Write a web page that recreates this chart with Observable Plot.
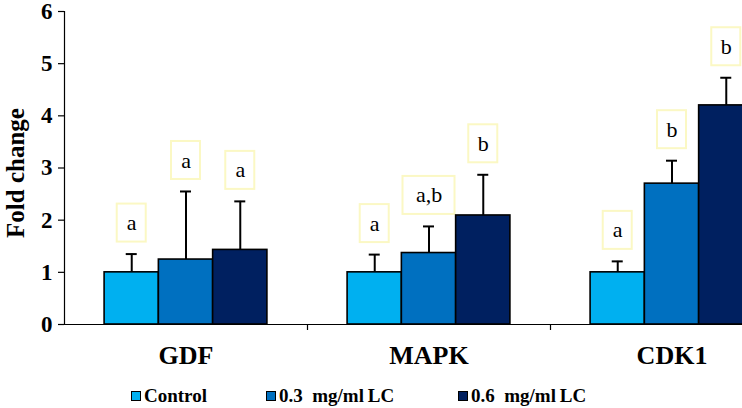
<!DOCTYPE html>
<html>
<head>
<meta charset="utf-8">
<script src="https://cdn.jsdelivr.net/npm/d3@7"></script>
<script src="https://cdn.jsdelivr.net/npm/@observablehq/plot@0.6"></script>
<style>
  html, body { margin: 0; padding: 0; background: #fff; overflow: hidden; width: 742px; height: 408px; }
  #chart svg { overflow: hidden; }
  .legend { position: relative; height: 28px; font-family: "Liberation Serif", "Times New Roman", serif; font-weight: bold; font-size: 19px; color: #000; }
  .legend .item { position: absolute; top: 5px; display: flex; align-items: center; white-space: pre; }
  .legend .sw { width: 8px; height: 8px; border: 1.5px solid #000; margin-right: 3px; }
</style>
</head>
<body>
<div id="chart"></div>
<div class="legend" id="legend"></div>
<script>
const genes = ["GDF", "MAPK", "CDK1"];
const treatments = ["Control", "0.3  mg/ml\u2009LC", "0.6  mg/ml\u2009LC"];
const colors = ["#00B0F0", "#0070C0", "#002060"];
const controlMean = [1.0, 1.0, 1.0];
const lc03Mean = [1.245, 1.37, 2.70];
const lc06Mean = [1.43, 2.09, 4.20];
const controlUpper = [1.35, 1.34, 1.21];
const lc03Upper = [2.55, 1.88, 3.14];
const lc06Upper = [2.36, 2.87, 4.73];
const controlSig = ["a", "a", "a"];
const lc03Sig = ["a", "a,b", "b"];
const lc06Sig = ["a", "b", "b"];
const yTicks = [0, 1, 2, 3, 4, 5, 6];

const means = [controlMean, lc03Mean, lc06Mean];
const uppers = [controlUpper, lc03Upper, lc06Upper];
const sigs = [controlSig, lc03Sig, lc06Sig];

const rows = treatments.flatMap((t, i) => genes.map((g, j) => ({
  gene: g, treatment: t, idx: i, mean: means[i][j], upper: uppers[i][j], sig: sigs[i][j]
})));

const left = 64, step = 243, padIn = 0.33;
const bandwidth = step * (1 - padIn);
const slot = bandwidth / 3;
const gap = 12, boxH = 38;
const serif = "Liberation Serif, Times New Roman, serif";

const marks = [];
for (let i = 0; i < 3; i++) {
  const d = rows.filter(r => r.idx === i);
  marks.push(Plot.ruleX(d, {x: "gene", y1: "mean", y2: "upper", dx: (i - 1) * slot, stroke: "black", strokeWidth: 2}));
  marks.push(Plot.tickY(d, {x: "gene", y: "upper", dx: (i - 1) * slot, insetLeft: (bandwidth - 11) / 2, insetRight: (bandwidth - 11) / 2, stroke: "black", strokeWidth: 2}));
  marks.push(Plot.barY(d, {x: "gene", y: "mean", fill: colors[i], stroke: "black", strokeWidth: 1.6, insetLeft: i * slot, insetRight: (2 - i) * slot}));
  for (const r of d) {
    const w = 29 + (r.sig.length - 1) * 11.5;
    const c = (i + 0.5) * slot;
    marks.push(Plot.barY([r], {x: "gene", y1: "upper", y2: "upper", fill: "white", stroke: "#fbf8c4", strokeWidth: 2,
      insetTop: -(gap + boxH), insetBottom: gap, insetLeft: c - w / 2, insetRight: bandwidth - (c + w / 2)}));
  }
  marks.push(Plot.text(d, {x: "gene", y: "upper", text: "sig", dx: (i - 1) * slot, dy: -(gap + boxH / 2), fontSize: 22, fontFamily: serif, fill: "black"}));
}

const plot = Plot.plot({
  width: 742,
  height: 380,
  marginTop: 11,
  marginBottom: 56,
  marginLeft: left,
  marginRight: 0,
  style: {fontFamily: serif, background: "white", color: "black"},
  x: {domain: genes, range: [left, left + 3 * step], paddingInner: padIn, paddingOuter: padIn / 2, round: false, label: null},
  y: {domain: [0, 6], label: null},
  marks: [
    Plot.ruleY([0], {stroke: "black", strokeWidth: 1.2}),
    Plot.frame({anchor: "left", stroke: "black", strokeWidth: 1.2}),
    Plot.ruleX(genes, {x: d => d, y1: 0, y2: 0, dx: step / 2, insetBottom: -6, stroke: "black", strokeWidth: 1.2}),
    Plot.axisY({ticks: yTicks, tickSize: 6, tickPadding: 6, tickFormat: d => String(d), fontSize: 23, fontWeight: "bold", fontFamily: serif, stroke: "black", strokeWidth: 1.2, label: null}),
    Plot.axisX({tickSize: 0, tickPadding: 21, fontSize: 26, fontWeight: "bold", fontFamily: serif, label: null}),
    Plot.text(["Fold change"], {frameAnchor: "left", textAnchor: "middle", lineAnchor: "middle", dx: -49, dy: 5, rotate: -90, fontSize: 25, fontWeight: "bold", fontFamily: serif, fill: "black"}),
    ...marks
  ]
});
document.getElementById("chart").appendChild(plot);

const legendStarts = [131, 266, 458];
const legend = document.getElementById("legend");
treatments.forEach((t, i) => {
  const item = document.createElement("div");
  item.className = "item";
  item.style.left = legendStarts[i] + "px";
  const sw = document.createElement("span");
  sw.className = "sw";
  sw.style.background = colors[i];
  const lab = document.createElement("span");
  lab.textContent = t;
  item.appendChild(sw);
  item.appendChild(lab);
  legend.appendChild(item);
});
</script>
</body>
</html>
